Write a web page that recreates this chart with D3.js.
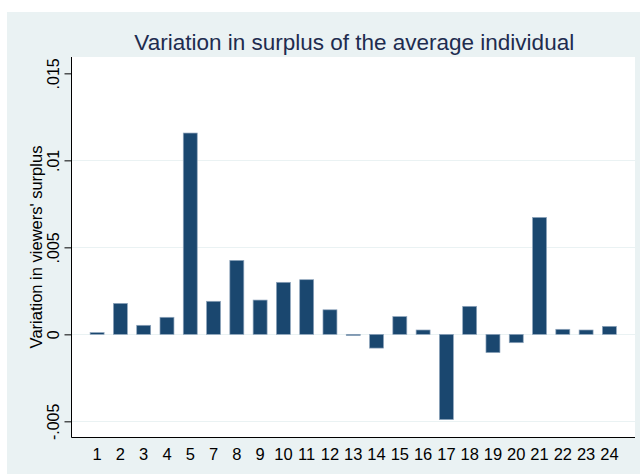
<!DOCTYPE html>
<html>
<head>
<meta charset="utf-8">
<script src="https://cdn.jsdelivr.net/npm/d3@7/dist/d3.min.js"></script>
<style>
  body { margin: 0; background: #fff; }
  text { font-family: "Liberation Sans", Arial, sans-serif; }
</style>
</head>
<body>
<script>
// categories (there is no 6 in the source)
var cats = ["1", "2", "3", "4", "5", "7", "8", "9", "10", "11", "12", "13",
    "14", "15", "16", "17", "18", "19", "20", "21", "22", "23", "24"];
var vals = [0.0001, 0.00178, 0.00052, 0.00098, 0.01157, 0.0019, 0.00425, 0.00197,
    0.00299, 0.00314, 0.00141, -0.00007, -0.00079, 0.00102, 0.00025, -0.0049,
    0.00161, -0.00105, -0.00048, 0.00672, 0.00029, 0.00025, 0.00046];
var yTicks = [-0.005, 0, 0.005, 0.01, 0.015];
var yTickLabels = ["-.005", "0", ".005", ".01", ".015"];
var gridTicks = [-0.005, 0, 0.005, 0.01];

var data = cats.map(function(c, i) { return { cat: c, v: vals[i] }; });

var w = 640, h = 474;
// plot region edges (note: "top" is reserved on window, so use pTop etc)
var pLeft = 71.5, pRight = 635, pTop = 57, pBottom = 437;

var svg = d3.select("body").append("svg").attr("width", w).attr("height", h);

// outer background
svg.append("rect").attr("x", 7).attr("y", 12).attr("width", w - 7).attr("height", h - 12)
    .attr("fill", "#eaf2f3");
// plot region
svg.append("rect").attr("x", pLeft).attr("y", pTop).attr("width", pRight - pLeft).attr("height", pBottom - pTop)
    .attr("fill", "#fff");

var x = d3.scaleBand().domain(cats).range([pLeft, pRight]).paddingInner(0.4).paddingOuter(0.8);
var y = d3.scaleLinear().domain([-0.0059, 0.01594]).range([pBottom, pTop]);

// gridlines
svg.selectAll("line.grid")
    .data(gridTicks)
    .enter()
    .append("line")
    .attr("class", "grid")
    .attr("x1", pLeft).attr("x2", pRight)
    .attr("y1", function(d) { return Math.round(y(d)) + 0.5; })
    .attr("y2", function(d) { return Math.round(y(d)) + 0.5; })
    .style("stroke", "#eaf2f3")
    .style("stroke-width", 1.2);

// bars
svg.selectAll("rect.bar")
    .data(data)
    .enter()
    .append("rect")
    .attr("class", "bar")
    .attr("x", function(d) { return x(d.cat); })
    .attr("width", x.bandwidth())
    .attr("y", function(d) { return Math.min(y(d.v), y(0)); })
    .attr("height", function(d) { return Math.max(Math.abs(y(d.v) - y(0)), 0.8); })
    .attr("fill", "#1a476f")
    .attr("stroke", "#8fa5bc")
    .attr("stroke-width", 0.7);

// y axis
var yAxis = svg.append("g").attr("transform", "translate(" + pLeft + ",0)")
    .call(d3.axisLeft(y).tickValues(yTicks).tickSize(7)
        .tickFormat(function(d, i) { return yTickLabels[i]; }));
yAxis.select(".domain").remove();
yAxis.selectAll(".tick line").attr("stroke", "#000");
yAxis.selectAll(".tick text")
    .attr("transform", "rotate(-90)")
    .attr("x", 0).attr("y", -13).attr("dy", 0)
    .attr("text-anchor", "middle")
    .style("font-size", "16px")
    .style("font-family", "'Liberation Sans', Arial, sans-serif")
    .attr("fill", "#000");

// x axis (labels only, no ticks)
var xAxis = svg.append("g").attr("transform", "translate(0," + pBottom + ")")
    .call(d3.axisBottom(x).tickSize(0));
xAxis.select(".domain").remove();
xAxis.selectAll(".tick text")
    .attr("y", 22.5).attr("dy", 0)
    .style("font-size", "16.5px")
    .style("font-family", "'Liberation Sans', Arial, sans-serif")
    .attr("fill", "#000");

// axis lines
svg.append("line").attr("x1", pLeft).attr("x2", pLeft).attr("y1", pTop).attr("y2", pBottom + 0.5)
    .style("stroke", "#000").style("stroke-width", 1);
svg.append("line").attr("x1", pLeft).attr("x2", pRight).attr("y1", pBottom + 0.5).attr("y2", pBottom + 0.5)
    .style("stroke", "#000").style("stroke-width", 1);

// title
svg.append("text").attr("x", (pLeft + pRight) / 2 + 1).attr("y", 50)
    .attr("text-anchor", "middle")
    .style("font-size", "22.5px")
    .attr("fill", "#1e2c4f")
    .text("Variation in surplus of the average individual");

// y axis title
svg.append("text")
    .attr("transform", "translate(42," + ((pTop + pBottom) / 2) + ") rotate(-90)")
    .attr("text-anchor", "middle")
    .style("font-size", "16.5px")
    .attr("fill", "#000")
    .text("Variation in viewers' surplus");
</script>
</body>
</html>
